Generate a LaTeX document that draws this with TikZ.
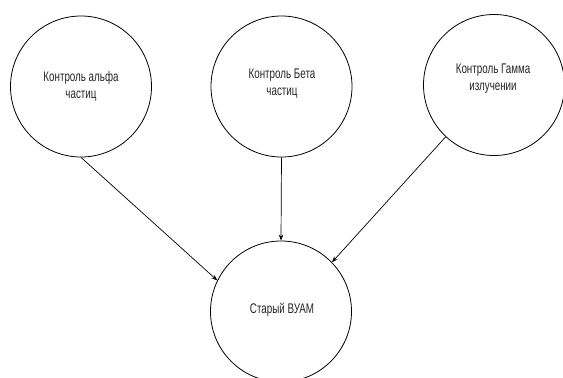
\documentclass[tikz,border=0pt]{standalone}
\usepackage{fontspec}
\newfontfamily\cfont[FakeStretch=0.7]{Liberation Sans}
\usetikzlibrary{arrows.meta}
\tikzset{
  bubble/.style={draw=black, circle, minimum size=141pt, inner sep=0pt, line width=0.8pt},
  lbl/.style={align=center, font=\cfont\fontsize{14}{17}\selectfont, text=black!85, inner sep=0pt},
  conn/.style={draw=black, line width=0.7pt, -{Stealth[length=6pt,width=4.5pt]}}
}
\begin{document}
\begin{tikzpicture}[x=1pt,y=1pt]
\useasboundingbox (0,0) rectangle (563,-378);
\fill[white] (0,0) rectangle (563,-378);
\clip (0,0) rectangle (563,-378);
\node[bubble] (c1) at (81,-86.5) {};
\node[bubble] (c2) at (281.5,-86.5) {};
\node[bubble] (c3) at (494,-85) {};
\node[bubble] (d) at (281,-311.5) {};
\node[lbl] (t1) at (81,-86.5) {Контроль альфа\\частиц};
\node[lbl] (t2) at (282,-83.5) {Контроль Бета\\частиц};
\node[lbl] (t3) at (493,-78.5) {Контроль Гамма\\излучении};
\node[lbl] (t4) at (282,-310) {Старый ВУАМ};
\draw[conn] (c1.south) -- (d.154);
\draw[conn] (c2.south) -- (d.north);
\draw[conn] (c3.227) -- (d.44);
\end{tikzpicture}
\end{document}
